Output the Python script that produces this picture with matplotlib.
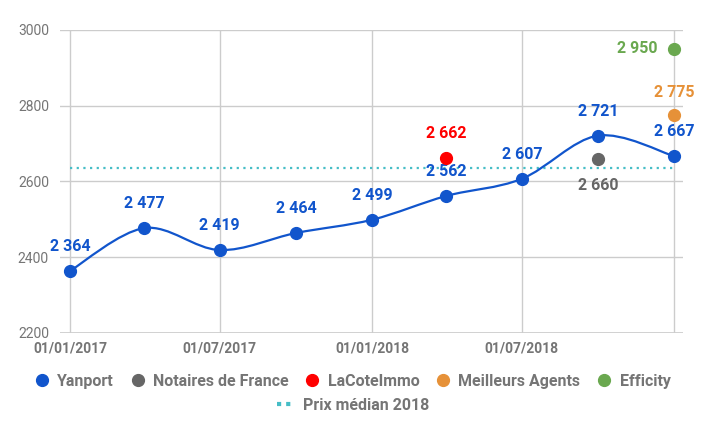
import numpy as np
import matplotlib.pyplot as plt
import matplotlib.dates as mdates
from matplotlib.path import Path
from matplotlib.patches import PathPatch
from matplotlib.lines import Line2D
from datetime import date

plt.rcParams['font.family'] = ['Roboto', 'DejaVu Sans']

# data
yanport_dates = [date(2017, 1, 1), date(2017, 4, 1), date(2017, 7, 1), date(2017, 10, 1),
                 date(2018, 1, 1), date(2018, 4, 1), date(2018, 7, 1), date(2018, 10, 1),
                 date(2019, 1, 1)]
yanport = [2364, 2477, 2419, 2464, 2499, 2562, 2607, 2721, 2667]
notaires_date = [date(2018, 10, 1)]
notaires = [2660]
lacote_date = [date(2018, 4, 1)]
lacote = [2662]
meilleurs_date = [date(2019, 1, 1)]
meilleurs = [2775]
efficity_date = [date(2019, 1, 1)]
efficity = [2950]
median_2018 = 2635

tick_dates = [date(2017, 1, 1), date(2017, 7, 1), date(2018, 1, 1), date(2018, 7, 1), date(2019, 1, 1)]
tick_labels = ['01/01/2017', '01/07/2017', '01/01/2018', '01/07/2018', '']

c_yan = '#1155cc'
c_not = '#666666'
c_lac = '#ff0000'
c_mei = '#e69138'
c_eff = '#6aa84f'
c_med = '#46bdc6'
grey = '#757575'


def fmt(v):
    s = str(v)
    return s[:-3] + ' ' + s[-3:]


fig = plt.figure(figsize=(7.06, 4.36), dpi=100)
ax = fig.add_axes([60 / 706, 1 - 333 / 436, 623 / 706, 303 / 436])

xs = mdates.date2num(yanport_dates)
ys = np.array(yanport, dtype=float)

# smooth curve (catmull-rom style bezier)
verts = [(xs[0], ys[0])]
codes = [Path.MOVETO]
n = len(xs)
for i in range(n - 1):
    p0 = np.array([xs[max(i - 1, 0)], ys[max(i - 1, 0)]])
    p1 = np.array([xs[i], ys[i]])
    p2 = np.array([xs[i + 1], ys[i + 1]])
    p3 = np.array([xs[min(i + 2, n - 1)], ys[min(i + 2, n - 1)]])
    c1 = p1 + (p2 - p0) / 6
    c2 = p2 - (p3 - p1) / 6
    verts += [tuple(c1), tuple(c2), tuple(p2)]
    codes += [Path.CURVE4] * 3
ax.add_patch(PathPatch(Path(verts, codes), facecolor='none', edgecolor=c_yan, lw=1.6, zorder=3))

ax.axhline(median_2018, color=c_med, ls=(0, (1, 2)), lw=1.6, zorder=2,
           xmin=10 / 623, xmax=614 / 623)

ax.plot(xs, ys, 'o', color=c_yan, ms=8.5, zorder=4)
ax.plot(mdates.date2num(notaires_date), notaires, 'o', color=c_not, ms=8.5, zorder=4)
ax.plot(mdates.date2num(lacote_date), lacote, 'o', color=c_lac, ms=8.5, zorder=4)
ax.plot(mdates.date2num(meilleurs_date), meilleurs, 'o', color=c_mei, ms=8.5, zorder=4)
ax.plot(mdates.date2num(efficity_date), efficity, 'o', color=c_eff, ms=8.5, zorder=4)

lab = dict(fontsize=11.5, fontweight='bold', ha='center', va='center', textcoords='offset points')
for x, y in zip(xs, ys):
    ax.annotate(fmt(int(y)), (x, y), xytext=(0, 17.5), color=c_yan, **lab)
ax.annotate(fmt(lacote[0]), (mdates.date2num(lacote_date[0]), lacote[0]), xytext=(0, 17.5), color=c_lac, **lab)
ax.annotate(fmt(notaires[0]), (mdates.date2num(notaires_date[0]), notaires[0]), xytext=(0, -19.5), color=c_not, **lab)
ax.annotate(fmt(meilleurs[0]), (mdates.date2num(meilleurs_date[0]), meilleurs[0]), xytext=(0, 16.5), color=c_mei, **lab)
lab_r = dict(lab)
lab_r['ha'] = 'right'
ax.annotate(fmt(efficity[0]), (mdates.date2num(efficity_date[0]), efficity[0]), xytext=(-12, 0), color=c_eff, **lab_r)

x0 = mdates.date2num(date(2017, 1, 1))
x1 = mdates.date2num(date(2019, 1, 1))
ppd = (x1 - x0) / 604
ax.set_xlim(x0 - 10 * ppd, x1 + 9 * ppd)
ax.set_ylim(2200, 3000)
ax.set_yticks([2200, 2400, 2600, 2800, 3000])
ax.set_xticks(mdates.date2num(tick_dates))
ax.set_xticklabels(tick_labels, fontweight='bold', color=grey, fontsize=10)
for t in ax.get_yticklabels():
    t.set_color(grey)
    t.set_fontsize(10)
ax.tick_params(axis='both', length=0)
ax.tick_params(axis='x', pad=6)
ax.tick_params(axis='y', pad=8)
ax.grid(True, color='#cccccc', lw=1)
ax.set_axisbelow(True)
for s in ax.spines.values():
    s.set_visible(False)
ax.axhline(2200, color='#cccccc', lw=1.2, zorder=1)

handles = [Line2D([], [], marker='o', ls='', color=c, ms=8.5) for c in [c_yan, c_not, c_lac, c_mei, c_eff]]
names = ['Yanport', 'Notaires de France', 'LaCoteImmo', 'Meilleurs Agents', 'Efficity']
leg1 = fig.legend(handles, names, loc='center', bbox_to_anchor=(0.5, 1 - 381 / 436), ncol=5,
                  frameon=False, handlelength=0.8, handletextpad=0.55, columnspacing=1.1,
                  prop={'weight': 'bold', 'size': 11.5})
for t in leg1.get_texts():
    t.set_color(grey)
med_h = Line2D([], [], ls=(0, (1, 1.2)), color=c_med, lw=3)
leg2 = fig.legend([med_h], ['Prix médian 2018'], loc='center', bbox_to_anchor=(0.5, 1 - 405 / 436),
                  frameon=False, handlelength=1.0, handletextpad=0.6,
                  prop={'weight': 'bold', 'size': 11.5})
for t in leg2.get_texts():
    t.set_color(grey)

fig.savefig('out.png', dpi=100)
